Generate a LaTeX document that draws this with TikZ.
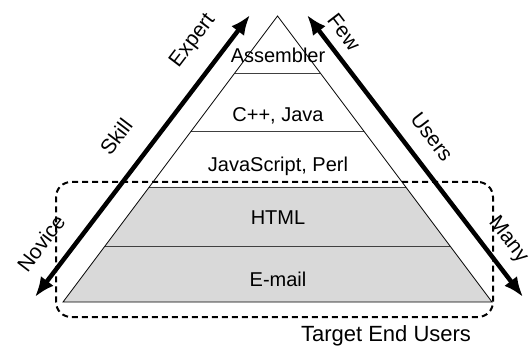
\documentclass[tikz,border=0pt]{standalone}
\usepackage{fontspec}
\setmainfont{Liberation Sans}
\usepackage{tikz}
\usetikzlibrary{positioning,arrows.meta}

\begin{document}
\begin{tikzpicture}[x=1pt,y=-1pt]
\tikzstyle{layer}=[inner sep=0pt, font=\fontsize{20}{24}\selectfont]
\tikzstyle{lbl}=[inner sep=0pt, font=\fontsize{21}{25}\selectfont]
\tikzstyle{bigarrow}=[{Latex[length=20pt,width=16pt]}-{Latex[length=20pt,width=16pt]}, line width=4.5pt]
\tikzstyle{dashbox}=[draw, line width=2pt, dash pattern=on 6pt off 4pt, rounded corners=15pt, minimum width=437pt, minimum height=135pt, inner sep=0pt]
\useasboundingbox (0,0) rectangle (529,347);
  \coordinate (top) at (277.5,16);
  \coordinate (bl) at (63,302);
  \coordinate (br) at (492,302);
  \fill[gray!30] (149.25,187) -- (405.75,187) -- (br) -- (bl) -- cycle;
  \foreach \y in {73,131,187,246}
    \draw[black!75, line width=0.9pt] (277.5-0.75*\y+12,\y) -- (277.5+0.75*\y-12,\y);
  \draw[line width=0.8pt] (top) -- (br) -- (bl) -- cycle;
  \node[layer] (asm) at (278,55) {Assembler};
  \node[layer] (cpp) at (278,116) {C++, Java};
  \node[layer] (js) at (278,166) {JavaScript, Perl};
  \node[layer] (html) at (278,218) {HTML};
  \node[layer] (mail) at (278,279) {E-mail};
  \node[dashbox] (target) at (274.5,249.5) {};
  \node[inner sep=0pt, font=\fontsize{22}{26}\selectfont] (targetLbl) at (386,336) {Target End Users};
  \coordinate (skillLow) at (35,297);
  \coordinate (skillHigh) at (250,15);
  \draw[bigarrow] (skillLow) -- (skillHigh);
  \coordinate (usersFew) at (307,15);
  \coordinate (usersMany) at (523,297);
  \draw[bigarrow] (usersFew) -- (usersMany);
  \node[lbl, rotate=52.7] (expert) at (193,41) {Expert};
  \node[lbl, rotate=52.7] (skill) at (116,137) {Skill};
  \node[lbl, rotate=52.7] (novice) at (41,243) {Novice};
  \node[lbl, rotate=-52.5] (few) at (344,32) {Few};
  \node[lbl, rotate=-52.5] (users) at (432,137) {Users};
  \node[lbl, rotate=-52.5] (many) at (508,240) {Many};
\end{tikzpicture}
\end{document}
